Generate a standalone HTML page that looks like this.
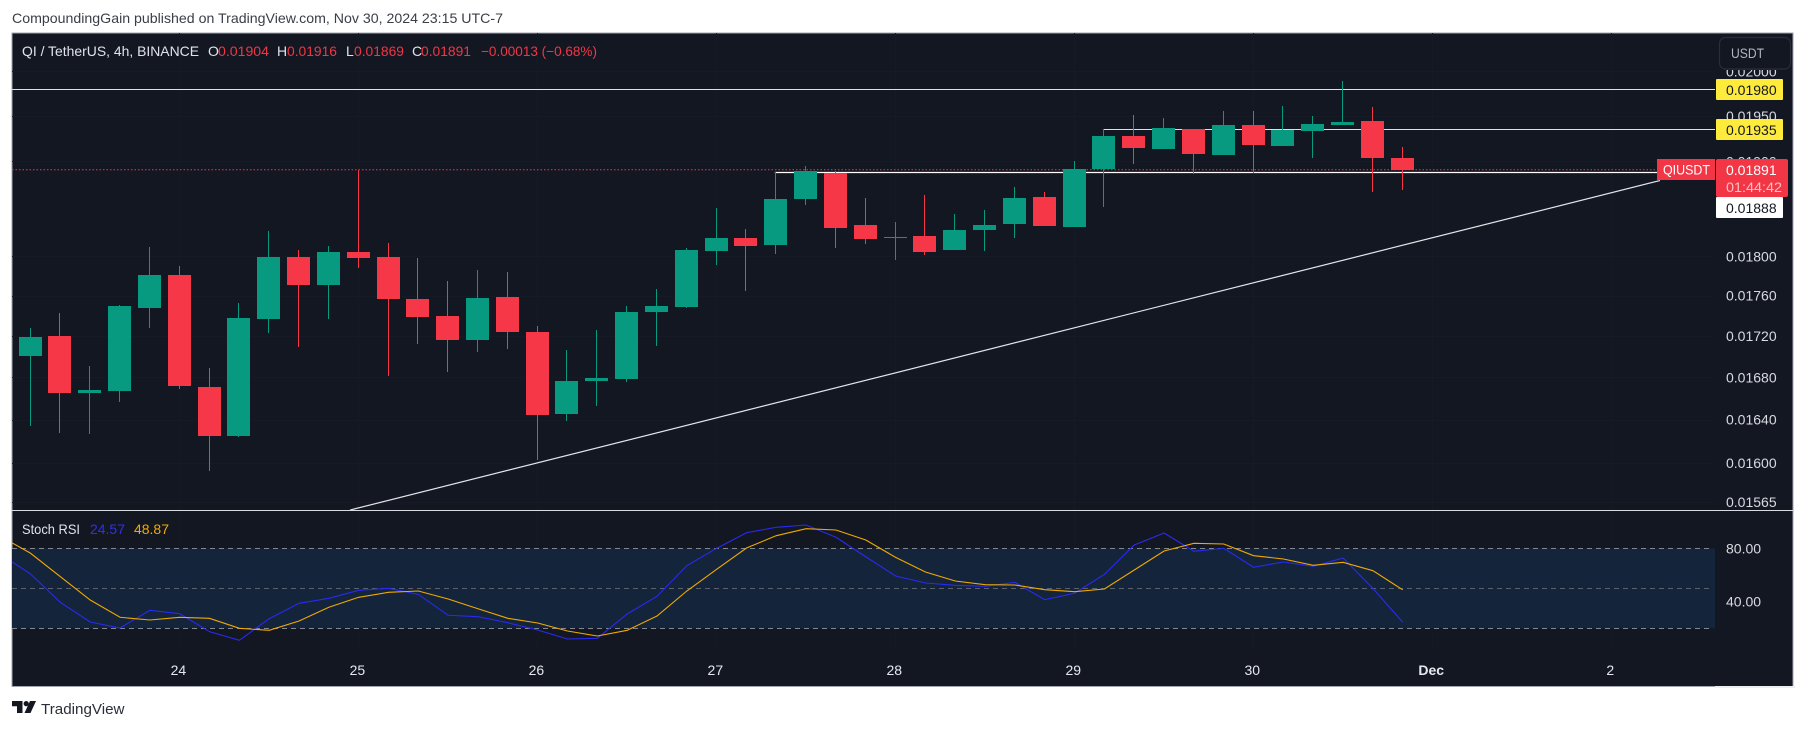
<!DOCTYPE html>
<html lang="en">
<head>
<meta charset="utf-8">
<title>QI / TetherUS 4h chart</title>
<style>
html,body{margin:0;padding:0;background:#fff;width:1806px;height:729px;overflow:hidden}
svg{display:block;font-family:"Liberation Sans",Arial,sans-serif}
</style>
</head>
<body>
<svg id="chart" xmlns="http://www.w3.org/2000/svg" width="1806" height="729" viewBox="0 0 1806 729">
  <rect x="0" y="0" width="1806" height="729" fill="#ffffff"/>
  <text x="12" y="23" font-size="14" fill="#3a3e48" textLength="491" lengthAdjust="spacingAndGlyphs">CompoundingGain published on TradingView.com, Nov 30, 2024 23:15 UTC-7</text>
  <rect x="12" y="33" width="1781" height="653.5" fill="#131722" stroke="#a3a6af" stroke-width="1"/>
  <rect x="1715" y="686" width="80" height="2" fill="#eceef2"/>
  <g id="grid"></g>
  <rect id="rsiBand" fill="#14243a"/>
  <g id="rsiLevels"></g>
  <g id="drawings"></g>
  <g id="candles"></g>
  <rect x="12" y="510" width="1781" height="1" fill="#d9dbe2"/>
  <g id="rsiLines"></g>
  <g id="priceAxis"></g>
  <g id="rsiAxis"></g>
  <g id="timeAxis"></g>

  <g font-size="14">
    <text x="22" y="56" fill="#e0e3eb" textLength="177" lengthAdjust="spacingAndGlyphs">QI / TetherUS, 4h, BINANCE</text>
    <text x="208" y="56" fill="#e0e3eb">O</text>
    <text x="218" y="56" fill="#f23645" textLength="51" lengthAdjust="spacingAndGlyphs">0.01904</text>
    <text x="277" y="56" fill="#e0e3eb">H</text>
    <text x="287" y="56" fill="#f23645" textLength="50" lengthAdjust="spacingAndGlyphs">0.01916</text>
    <text x="346" y="56" fill="#e0e3eb">L</text>
    <text x="354" y="56" fill="#f23645" textLength="50" lengthAdjust="spacingAndGlyphs">0.01869</text>
    <text x="412" y="56" fill="#e0e3eb">C</text>
    <text x="421" y="56" fill="#f23645" textLength="50" lengthAdjust="spacingAndGlyphs">0.01891</text>
    <text x="481" y="56" fill="#f23645" textLength="116" lengthAdjust="spacingAndGlyphs">−0.00013 (−0.68%)</text>
  </g>

  <g font-size="14">
    <text x="22" y="534" fill="#e0e3eb" textLength="58" lengthAdjust="spacingAndGlyphs">Stoch RSI</text>
    <text x="90" y="534" fill="#2f2ff0" textLength="35" lengthAdjust="spacingAndGlyphs">24.57</text>
    <text x="134" y="534" fill="#f2a900" textLength="35" lengthAdjust="spacingAndGlyphs">48.87</text>
  </g>

  <rect x="1716" y="34" width="76.5" height="36" fill="#131722"/>
  <g>
    <rect x="1719.5" y="37.5" width="71" height="31.5" rx="6" fill="#131722" stroke="#2a2e39" stroke-width="1.2"/>
    <text x="1731" y="58" font-size="14" fill="#b2b5be" textLength="33" lengthAdjust="spacingAndGlyphs">USDT</text>
  </g>

  <g>
    <rect x="1716" y="79" width="67" height="21" rx="1" fill="#ffeb3b"/>
    <text x="1726" y="95" font-size="14" fill="#131722">0.01980</text>
  </g>
  <g>
    <rect x="1716" y="119" width="67" height="21" rx="1" fill="#ffeb3b"/>
    <text x="1726" y="135" font-size="14" fill="#131722">0.01935</text>
  </g>
  <g>
    <rect x="1716" y="197" width="67" height="21" rx="1" fill="#ffffff"/>
    <text x="1726" y="213" font-size="14" fill="#131722">0.01888</text>
  </g>
  <g>
    <rect x="1657" y="159" width="58" height="21" fill="#f23645"/>
    <text x="1663" y="174.5" font-size="14" fill="#ffffff" textLength="47" lengthAdjust="spacingAndGlyphs">QIUSDT</text>
  </g>
  <g>
    <rect x="1716" y="159" width="72" height="38" rx="2" fill="#f23645"/>
    <text x="1726" y="175" font-size="14" fill="#ffffff">0.01891</text>
    <text x="1726" y="192" font-size="14" fill="#ffc0c5" textLength="56" lengthAdjust="spacingAndGlyphs">01:44:42</text>
  </g>

  <g fill="#131722">
    <polygon points="12,701 22.5,701 22.5,713 17,713 17,706.2 12,706.2"/>
    <circle cx="26.2" cy="703.6" r="2.6"/>
    <polygon points="30,701 36,701 30.5,713 24.5,713"/>
    <text x="41" y="714" font-size="15" fill="#2a2e39" textLength="83.5" lengthAdjust="spacingAndGlyphs">TradingView</text>
  </g>
</svg>

<script>
// Candle data (oldest first), 4h bars
const opens  = [0.01701,0.01720,0.01665,0.01667,0.01748,0.01781,0.01671,0.01625,0.01737,0.01799,0.01771,0.01804,0.01799,0.01757,0.01740,0.01716,0.01759,0.01724,0.01645,0.01677,0.01678,0.01744,0.01749,0.01805,0.01819,0.01812,0.01860,0.01888,0.01832,0.01819,0.01821,0.01806,0.01827,0.01833,0.01862,0.01830,0.01892,0.01928,0.01914,0.01935,0.01907,0.01940,0.01917,0.01933,0.01940,0.01944,0.01904];
const highs  = [0.01728,0.01743,0.01691,0.01751,0.01810,0.01790,0.01689,0.01753,0.01826,0.01806,0.01811,0.01891,0.01814,0.01798,0.01775,0.01786,0.01784,0.01730,0.01706,0.01726,0.01750,0.01767,0.01809,0.01850,0.01828,0.01889,0.01895,0.01890,0.01861,0.01836,0.01864,0.01844,0.01848,0.01873,0.01867,0.01900,0.01935,0.01951,0.01948,0.01935,0.01955,0.01955,0.01961,0.01950,0.01989,0.01960,0.01916];
const lows   = [0.01634,0.01628,0.01627,0.01657,0.01728,0.01669,0.01593,0.01624,0.01723,0.01709,0.01737,0.01788,0.01681,0.01712,0.01685,0.01704,0.01707,0.01603,0.01639,0.01653,0.01676,0.01710,0.01748,0.01791,0.01765,0.01802,0.01853,0.01809,0.01813,0.01796,0.01801,0.01806,0.01805,0.01819,0.01831,0.01830,0.01851,0.01897,0.01914,0.01886,0.01907,0.01888,0.01917,0.01904,0.01940,0.01867,0.01869];
const closes = [0.01719,0.01665,0.01668,0.01750,0.01781,0.01672,0.01625,0.01738,0.01799,0.01771,0.01804,0.01798,0.01757,0.01739,0.01716,0.01758,0.01724,0.01644,0.01677,0.01679,0.01744,0.01750,0.01806,0.01819,0.01811,0.01860,0.01890,0.01829,0.01818,0.01820,0.01804,0.01827,0.01832,0.01861,0.01831,0.01892,0.01928,0.01915,0.01936,0.01908,0.01940,0.01918,0.01934,0.01941,0.01943,0.01904,0.01891];

// Stoch RSI values; first entry is the bar just before the visible window
const stochK = [75.4,60.75,39.5,24.75,20.25,33.5,31.0,17.5,11.0,27.2,38.8,42.5,48.5,50.0,45.5,29.8,28.7,24.2,18.75,12.0,12.5,30.75,44.0,67.0,80.0,91.7,95.8,97.5,88.3,73.7,59.25,54.0,52.3,51.5,54.5,41.5,46.3,60.5,82.5,91.5,77.8,80.0,65.8,69.75,66.5,72.75,50.0,24.57];
const stochD = [88.9,76.3,58.7,41.25,28.3,26.25,28.3,27.5,20.0,18.5,25.5,35.8,43.3,47.0,48.0,42.0,34.7,27.5,24.0,18.0,14.25,18.5,29.25,48.0,64.3,80.25,89.5,94.75,93.75,86.25,73.25,62.25,55.5,52.75,52.5,49.0,47.5,49.5,63.75,78.0,83.75,83.25,74.5,72.0,67.25,69.5,63.25,48.87];

// Axis tick values and labels
const priceTicks = [0.02,0.0195,0.019,0.018,0.0176,0.0172,0.0168,0.0164,0.016,0.01565];
const rsiTicks = [80,40];
const rsiBandLevels = [80,50,20];
const dayLabels = ['24','25','26','27','28','29','30','Dec','2'];
const dayBars = [5,11,17,23,29,35,41,47,53];

// Drawing tool levels
const resistancePrice = 0.0198;
const upperLevelPrice = 0.01935;
const upperLevelStartBar = 36;
const supportPrice = 0.01888;
const supportStartBar = 25;
const lastPrice = 0.01891;
const trendBars = [10.726,54.64];
const trendPrices = [0.015577,0.018794];

const NS = 'http://www.w3.org/2000/svg';
const PANE_LEFT = 12;
const PANE_RIGHT = 1715;
const UP = '#089981';
const DOWN = '#f63748';

function xBar(i){ return 30.05 + 29.83 * i; }
function yPrice(p){ return 463 - 1755 * Math.log(p / 0.016); }
function yRsi(v){ return 655 - (4 / 3) * v; }

function make(tag, parent, attrs){
  const el = document.createElementNS(NS, tag);
  for (const k in attrs) el.setAttribute(k, attrs[k]);
  parent.appendChild(el);
  return el;
}

const gridG = document.getElementById('grid');
const levelsG = document.getElementById('rsiLevels');
const drawG = document.getElementById('drawings');
const candleG = document.getElementById('candles');
const rsiG = document.getElementById('rsiLines');
const priceG = document.getElementById('priceAxis');
const rsiAxisG = document.getElementById('rsiAxis');
const timeG = document.getElementById('timeAxis');

// Grid and price axis
priceTicks.forEach(function(p){
  const y = Math.round(yPrice(p));
  const line = make('line', gridG, {x1:PANE_LEFT, x2:PANE_RIGHT, y1:y+0.5, y2:y+0.5, stroke:'#161a25', 'stroke-width':1});
  
  
  const t = make('text', priceG, {x:1726, y:yPrice(p)+5, 'font-size':14, fill:'#d8dae1'});
  t.textContent = p.toFixed(5);
  
  
});

// Time axis and vertical grid
dayLabels.forEach(function(label, k){
  const x = xBar(dayBars[k]);
  const line = make('line', gridG, {x1:Math.floor(x)+0.5, x2:Math.floor(x)+0.5, y1:33, y2:648, stroke:'#161a25', 'stroke-width':1});
  
  
  const t = make('text', timeG, {x:x-0.8, y:675, 'font-size':14, 'text-anchor':'middle', fill:'#e6e8ee', 'font-weight':label === 'Dec' ? 'bold' : 'normal'});
  t.textContent = label;
  
  
});

// Stoch RSI band and levels
const band = document.getElementById('rsiBand');
band.setAttribute('x', PANE_LEFT);
band.setAttribute('y', yRsi(rsiBandLevels[0]));
band.setAttribute('width', PANE_RIGHT - PANE_LEFT);
band.setAttribute('height', yRsi(rsiBandLevels[2]) - yRsi(rsiBandLevels[0]));
rsiBandLevels.forEach(function(v, k){
  const y = Math.round(yRsi(v)) + 0.5;
  const line = make('line', levelsG, {x1:PANE_LEFT, x2:PANE_RIGHT - 4, y1:y, y2:y, stroke:k === 1 ? '#5d616c' : '#84878f', 'stroke-width':1, 'stroke-dasharray':'5 4'});
  
  
});
rsiTicks.forEach(function(v){
  const t = make('text', rsiAxisG, {x:1726, y:yRsi(v)+5, 'font-size':14, fill:'#d8dae1'});
  t.textContent = v.toFixed(2);
  
  
});

// Drawings (behind candles)
const lastLine = make('line', drawG, {x1:PANE_LEFT, x2:1657, y1:yPrice(lastPrice), y2:yPrice(lastPrice), stroke:'#f23645', 'stroke-width':1, 'stroke-dasharray':'1.5 2'});



const resLine = make('line', drawG, {x1:PANE_LEFT, x2:PANE_RIGHT, y1:Math.floor(yPrice(resistancePrice))+0.5, y2:Math.floor(yPrice(resistancePrice))+0.5, stroke:'#ffeb5a', 'stroke-width':1});



const upperLine = make('line', drawG, {x1:xBar(upperLevelStartBar)-1, x2:PANE_RIGHT, y1:Math.floor(yPrice(upperLevelPrice))+0.5, y2:Math.floor(yPrice(upperLevelPrice))+0.5, stroke:'#ffeb5a', 'stroke-width':1});



const supLine = make('line', drawG, {x1:xBar(supportStartBar)-1, x2:PANE_RIGHT, y1:Math.floor(yPrice(supportPrice))+0.5, y2:Math.floor(yPrice(supportPrice))+0.5, stroke:'#ffffff', 'stroke-width':1.2});



const trend = make('line', drawG, {x1:xBar(trendBars[0]), y1:yPrice(trendPrices[0]), x2:xBar(trendBars[1]), y2:yPrice(trendPrices[1]), stroke:'#e4e6eb', 'stroke-width':1.2});



// Candles
opens.forEach(function(o, i){
  const c = closes[i];
  const color = c >= o ? UP : DOWN;
  const cx = Math.floor(xBar(i));
  const yHigh = Math.round(yPrice(highs[i]));
  const yLow = Math.round(yPrice(lows[i]));
  const yTop = Math.round(yPrice(Math.max(o, c)));
  const yBot = Math.round(yPrice(Math.min(o, c)));
  const wick = make('rect', candleG, {x:cx, y:yHigh, width:1, height:Math.max(1, yLow - yHigh), fill:color});
  
  
  const body = make('rect', candleG, {x:cx - 11, y:yTop, width:23, height:Math.max(1, yBot - yTop), fill:color});
  
  
});

// Stoch RSI lines
function rsiPath(values){
  return values.map(function(v, k){
    const x = Math.max(PANE_LEFT, xBar(k - 1) + 0.5);
    const prevX = xBar(k - 1) + 0.5;
    let y = yRsi(v);
    if (k === 0) {
      const nextX = xBar(0) + 0.5;
      const frac = (PANE_LEFT - prevX) / (nextX - prevX);
      y = yRsi(v + (values[1] - v) * frac);
    }
    return (k === 0 ? 'M' : 'L') + x.toFixed(2) + ' ' + y.toFixed(2);
  }).join(' ');
}
const kLine = make('path', rsiG, {d:rsiPath(stochK), fill:'none', stroke:'#2a2af0', 'stroke-width':1.1});


const dLine = make('path', rsiG, {d:rsiPath(stochD), fill:'none', stroke:'#f2a900', 'stroke-width':1.1});


</script>
</body>
</html>
